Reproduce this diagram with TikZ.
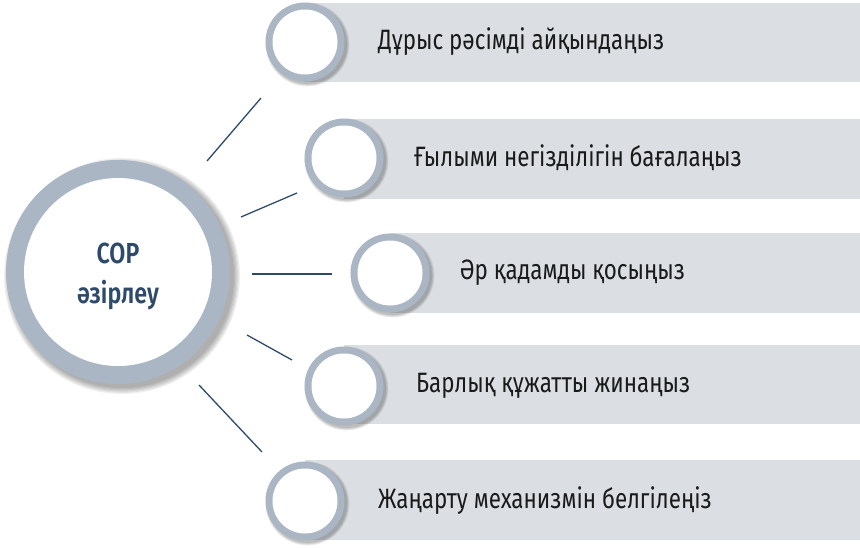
\documentclass[tikz,border=0pt]{standalone}
\usepackage{fontspec}
\setmainfont{Fira Sans}[FakeStretch=0.8]
\newfontfamily\centerfont{Fira Sans SemiBold}[FakeStretch=0.8]
\begin{document}
\begin{tikzpicture}[x=1pt,y=-1pt,
  barbox/.style={fill=barcol,draw=none},
  itemtext/.style={anchor=west,inner sep=0pt,text=txtcol,font=\fontsize{28}{30}\selectfont},
  conn/.style={draw=linecol,line width=1.3pt},
]
\definecolor{barcol}{HTML}{DBDFE3}
\definecolor{ringcol}{HTML}{AAB6C4}
\definecolor{linecol}{HTML}{2E4A6B}
\definecolor{txtcol}{HTML}{1A1A1A}
\definecolor{ctrcol}{HTML}{2E4A6B}
\useasboundingbox (0,0) rectangle (860,547);
\fill[white] (0,0) rectangle (860,547);

% bars
\fill[barbox] (305,3) rectangle (860,82);
\fill[barbox] (344,119) rectangle (860,199);
\fill[barbox] (390,233) rectangle (860,313);
\fill[barbox] (344,345) rectangle (860,424);
\fill[barbox] (305,460) rectangle (860,540);

% shadows of small circles
\foreach \cx/\cy in {305/42, 344/158, 390/273, 344/386, 305/501}{
  \foreach \k in {0,1,2,3}{
    \fill[black,opacity=0.07] (\cx+2.5,\cy+2.5) circle[radius=39.5pt+\k*0.8pt];
  }
}
% shadow of big circle
\foreach \k in {0,1,2,3,4,5}{
  \fill[black,opacity=0.06] (122,276) circle[radius=112pt+\k*1.2pt];
}

% big circle
\node[circle,minimum size=224pt,inner sep=0pt,draw=none,fill=ringcol] (c0) at (118,272) {};
\fill[white] (c0.center) circle[radius=94pt];
\node[align=center,text=ctrcol,font=\centerfont\fontsize{29}{40}\selectfont] (t0) at (118,276) {СОР\\әзірлеу};

% small circles
\foreach \n/\cx/\cy in {1/305/42, 2/344/158, 3/390/273, 4/344/386, 5/305/501}{
  \node[circle,minimum size=79pt,inner sep=0pt,draw=none,fill=ringcol] (c\n) at (\cx,\cy) {};
  \fill[white] (c\n.center) circle[radius=32.5pt];
}

% texts
\node[itemtext] (t1) at (378,42) {Дұрыс рәсімді айқындаңыз};
\node[itemtext] (t2) at (414,158) {Ғылыми негізділігін бағалаңыз};
\node[itemtext] (t3) at (460,273) {Әр қадамды қосыңыз};
\node[itemtext] (t4) at (416,386) {Барлық құжатты жинаңыз};
\node[itemtext] (t5) at (378,501) {Жаңарту механизмін белгілеңіз};

% connectors
\coordinate (a1) at (207,161); \coordinate (b1) at (261,98);
\coordinate (a2) at (241,217); \coordinate (b2) at (297,193);
\coordinate (a3) at (252,274); \coordinate (b3) at (332,274);
\coordinate (a4) at (247,335); \coordinate (b4) at (292,360);
\coordinate (a5) at (199,385); \coordinate (b5) at (262,452);
\foreach \i in {1,...,5}{\draw[conn] (a\i) -- (b\i);}
\end{tikzpicture}
\end{document}
